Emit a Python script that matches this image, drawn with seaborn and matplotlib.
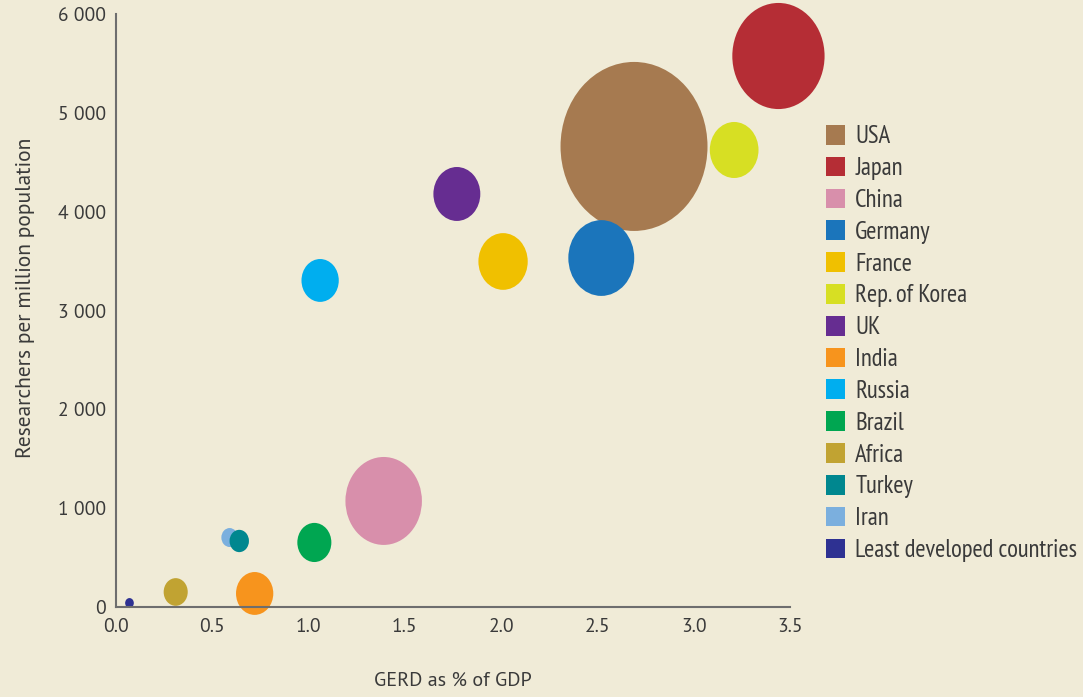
import matplotlib
matplotlib.use("Agg")
import matplotlib.pyplot as plt
from matplotlib import font_manager as fm
from matplotlib.path import Path
from matplotlib.patches import Patch
import numpy as np
import pandas as pd
import seaborn as sns

countries = ["USA", "Japan", "China", "Germany", "France", "Rep. of Korea", "UK",
             "India", "Russia", "Brazil", "Africa", "Turkey", "Iran",
             "Least developed countries"]
gerd_pct_gdp = [2.69, 3.44, 1.39, 2.52, 2.01, 3.21, 1.77,
                0.72, 1.06, 1.03, 0.31, 0.64, 0.59, 0.07]
researchers_per_million = [4660, 5575, 1073, 3531, 3496, 4624, 4179,
                           137, 3304, 653, 152, 668, 703, 40]
gerd_volume = [373, 147, 101, 75, 42, 41, 38,
               24, 24, 20, 10, 6.5, 4.7, 1.3]
colors = ["#A67A50", "#B52D35", "#D88FAB", "#1B75BB", "#F0C000", "#D7DF23", "#662D91",
          "#F7941D", "#00AEEF", "#00A651", "#C1A332", "#00878F", "#7BAFDE", "#2E3192"]
x_ticks = [0.0, 0.5, 1.0, 1.5, 2.0, 2.5, 3.0, 3.5]
x_tick_labels = ["0.0", "0.5", "1.0", "1.5", "2.0", "2.5", "3.0", "3.5"]
y_ticks = [0, 1000, 2000, 3000, 4000, 5000, 6000]
y_tick_labels = ["0", "1 000", "2 000", "3 000", "4 000", "5 000", "6 000"]
draw_order = ["USA", "Japan", "China", "Germany", "France", "Rep. of Korea", "UK",
              "India", "Russia", "Brazil", "Africa", "Iran", "Turkey",
              "Least developed countries"]

df = pd.DataFrame({"country": countries, "x": gerd_pct_gdp,
                   "y": researchers_per_million, "gerd": gerd_volume})
df = df.set_index("country").loc[draw_order].reset_index()
palette = dict(zip(countries, colors))

bg = "#F0EBD7"
txt = "#3a3a3a"
axc = "#6e6e6e"

sns.set_theme(style="white")
available = {f.name for f in fm.fontManager.ttflist}
narrow = [p for p in ["PT Sans Narrow", "Fira Sans Condensed", "Open Sans Condensed",
                      "Roboto Condensed", "Archivo Narrow"] if p in available][:1]
regular = [p for p in ["PT Sans", "Fira Sans", "Open Sans"] if p in available][:1]
fallback = ["Liberation Sans", "DejaVu Sans"]
plt.rcParams["font.family"] = regular + fallback
narrow_family = narrow + fallback

fig = plt.figure(figsize=(10.83, 6.97), dpi=100, facecolor=bg)
ax = fig.add_axes([116/1083, 1 - 607/697, (790-116)/1083, (607-14)/697])
ax.set_facecolor(bg)

# ellipse marker (slightly taller than wide)
circ = Path.unit_circle()
verts = circ.vertices * np.array([1/1.15, 1.0])
ell = Path(verts, circ.codes)

k = 39.7
vmin, vmax = min(gerd_volume), max(gerd_volume)
sns.scatterplot(data=df, x="x", y="y", hue="country", palette=palette,
                size="gerd", sizes=(k*vmin, k*vmax), size_norm=(vmin, vmax),
                marker=ell, linewidth=0, alpha=1, legend=False, ax=ax,
                clip_on=False)

ax.set_xlim(0, 3.5)
ax.set_ylim(0, 6000)
ax.set_xticks(x_ticks)
ax.set_xticklabels(x_tick_labels)
ax.set_yticks(y_ticks)
ax.set_yticklabels(y_tick_labels)
for s in ["top", "right"]:
    ax.spines[s].set_visible(False)
for s in ["left", "bottom"]:
    ax.spines[s].set_color(axc)
    ax.spines[s].set_linewidth(1.5)
ax.tick_params(axis="y", direction="in", length=11, width=1.5, color=axc,
               labelsize=14, labelcolor=txt, pad=7)
ax.tick_params(axis="x", direction="in", length=10, width=1.5, color=axc,
               labelsize=14, labelcolor=txt, pad=8)
ax.set_xlabel("GERD as % of GDP", fontsize=14.5, color=txt, labelpad=26)
ax.set_ylabel("Researchers per million population", fontsize=15.5, color=txt)
ax.yaxis.set_label_coords(-0.12, 0.521)

handles = [Patch(facecolor=palette[c], edgecolor="none", label=c) for c in countries]
leg = fig.legend(handles=handles, loc="upper left", bbox_to_anchor=(816/1083, 1 - 115/697),
                 frameon=False, prop={"family": narrow_family, "size": 17.8},
                 handlelength=0.77, handleheight=0.85,
                 handletextpad=0.42, labelspacing=0.34, borderaxespad=0)
for t in leg.get_texts():
    t.set_color(txt)

fig.savefig("out.png", dpi=100, facecolor=bg)
